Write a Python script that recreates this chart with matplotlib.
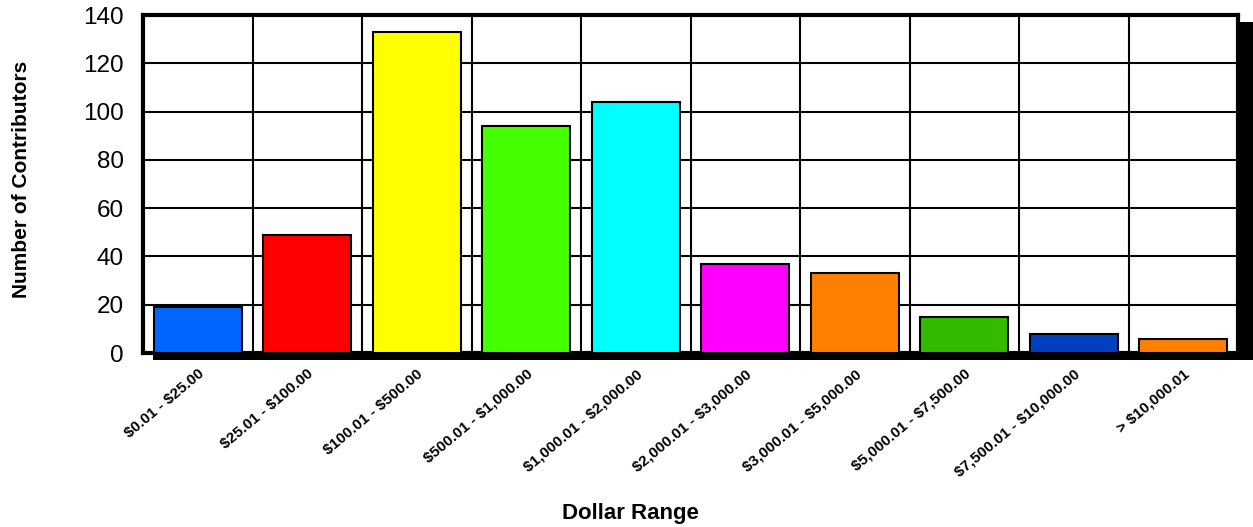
import matplotlib.pyplot as plt
from matplotlib.patches import Rectangle

plt.rcParams['font.family'] = ['Liberation Sans', 'DejaVu Sans']
plt.rcParams['text.parse_math'] = False

# categorias
faixas = [
    "$0.01 - $25.00",
    "$25.01 - $100.00",
    "$100.01 - $500.00",
    "$500.01 - $1,000.00",
    "$1,000.01 - $2,000.00",
    "$2,000.01 - $3,000.00",
    "$3,000.01 - $5,000.00",
    "$5,000.01 - $7,500.00",
    "$7,500.01 - $10,000.00",
    "> $10,000.01",
]

# valores
contribuintes = [19, 49, 133, 94, 104, 37, 33, 15, 8, 6]

cores = [
    "#0066ff", "#ff0000", "#ffff00", "#44ff00", "#00ffff",
    "#ff00ff", "#ff8000", "#33bb00", "#0040c0", "#ff8000",
]

y_ticks = [0, 20, 40, 60, 80, 100, 120, 140]

fig = plt.figure(figsize=(12.53, 5.27), dpi=100)

pos = [143 / 1253, 174 / 527, (1238 - 143) / 1253, (353 - 15) / 527]

# sombra preta
sombra = Rectangle(
    (pos[0] + 10 / 1253, pos[1] - 7 / 527),
    pos[2] + 5 / 1253,
    pos[3],
    transform=fig.transFigure,
    facecolor="black",
    edgecolor="none",
    zorder=0
)
fig.patches.append(sombra)

ax = fig.add_axes(pos)
ax.set_zorder(1)
ax.set_facecolor("white")

x = list(range(len(faixas)))

ax.bar(
    x,
    contribuintes,
    width=0.8,
    color=cores,
    edgecolor="black",
    linewidth=1.5,
    zorder=3
)

ax.set_xlim(-0.5, len(faixas) - 0.5)
ax.set_ylim(0, 140)

ax.set_yticks(y_ticks)
ax.set_yticklabels([str(v) for v in y_ticks], fontsize=17.5)

ax.set_xticks(x)
ax.set_xticklabels(
    faixas,
    rotation=40,
    ha="right",
    rotation_mode="anchor",
    fontsize=11,
    fontweight="bold"
)

ax.set_xticks([i + 0.5 for i in x[:-1]], minor=True)

ax.grid(axis="y", which="major", color="black", linewidth=1.5, zorder=1)
ax.grid(axis="x", which="minor", color="black", linewidth=1.5, zorder=1)
ax.set_axisbelow(True)

ax.tick_params(axis="both", which="both", length=0)
ax.tick_params(axis="y", pad=14)
ax.tick_params(axis="x", pad=10)

for lado in ax.spines.values():
    lado.set_linewidth(3)
    lado.set_color("black")

# titulos dos eixos
fig.text(
    22 / 1253,
    1 - 179 / 527,
    "Number of Contributors",
    rotation=90,
    ha="center",
    va="center",
    fontsize=15,
    fontweight="bold"
)

fig.text(
    630 / 1253,
    1 - 513 / 527,
    "Dollar Range",
    ha="center",
    va="center",
    fontsize=16,
    fontweight="bold"
)

plt.savefig("out.png", dpi=100)
plt.close()
